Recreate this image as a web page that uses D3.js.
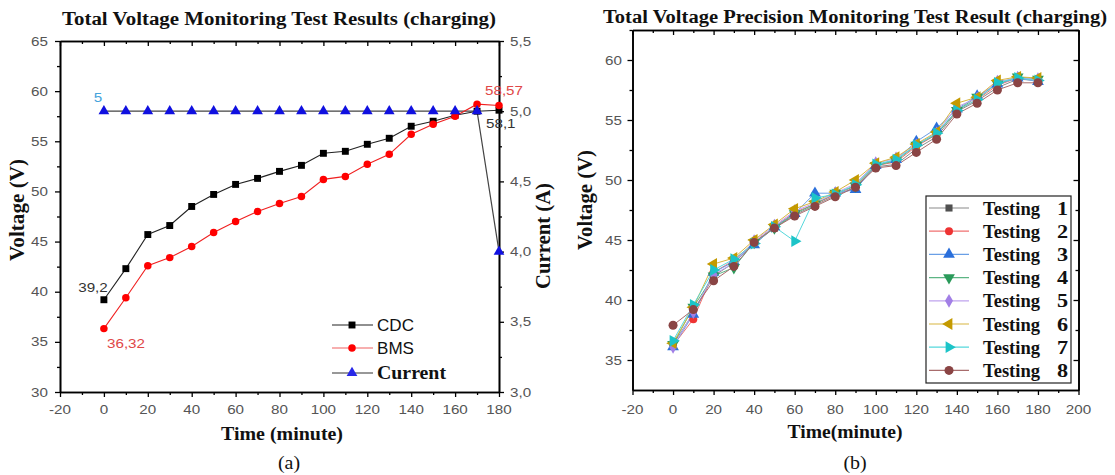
<!DOCTYPE html>
<html>
<head>
<meta charset="utf-8">
<script src="https://cdn.jsdelivr.net/npm/d3@7"></script>
<style>
  body { margin: 0; background: #fff; }
  svg { display: block; }
</style>
</head>
<body>
<svg width="1115" height="475"></svg>
<script>
// time axis shared by both panels (minutes)
var times = [0, 10, 20, 30, 40, 50, 60, 70, 80, 90, 100, 110, 120, 130, 140, 150, 160, 170, 180];

// panel (a)
var cdc = [39.2, 42.3, 45.7, 46.6, 48.5, 49.7, 50.7, 51.3, 52.0, 52.6, 53.8, 54.0, 54.7, 55.3, 56.5, 57.0, 57.6, 58.0, 58.1];
var bms = [36.32, 39.4, 42.6, 43.4, 44.5, 45.9, 47.0, 48.0, 48.8, 49.5, 51.2, 51.5, 52.7, 53.7, 55.7, 56.7, 57.5, 58.7, 58.57];
var current = [5, 5, 5, 5, 5, 5, 5, 5, 5, 5, 5, 5, 5, 5, 5, 5, 5, 5, 4];
var aLeftTicks = [30, 35, 40, 45, 50, 55, 60, 65];
var aRightTicks = [3.0, 3.5, 4.0, 4.5, 5.0, 5.5];
var aTimeTicks = [-20, 0, 20, 40, 60, 80, 100, 120, 140, 160, 180];

// panel (b)
var testNames = ["Testing 1", "Testing 2", "Testing 3", "Testing 4", "Testing 5", "Testing 6", "Testing 7", "Testing 8"];
var test1 = [36.3, 38.9, 42.0, 43.1, 44.7, 46.0, 47.1, 47.9, 48.7, 49.4, 51.1, 51.3, 52.6, 53.6, 55.7, 56.6, 57.7, 58.4, 58.3];
var test2 = [36.2, 38.4, 42.3, 43.3, 44.8, 46.1, 47.3, 48.0, 48.8, 49.5, 51.2, 51.5, 52.8, 53.8, 55.8, 56.7, 57.9, 58.5, 58.4];
var test3 = [36.1, 38.8, 42.3, 43.2, 44.6, 46.1, 47.2, 48.9, 48.9, 49.2, 51.2, 51.7, 53.2, 54.3, 55.9, 57.0, 58.0, 58.5, 58.2];
var test4 = [36.3, 39.4, 42.0, 42.7, 44.8, 46.0, 47.2, 48.0, 48.9, 49.5, 51.2, 51.6, 52.9, 53.8, 55.8, 56.9, 58.0, 58.6, 58.4];
var test5 = [36.1, 39.0, 42.1, 43.1, 44.9, 46.2, 47.4, 48.1, 48.9, 49.7, 51.4, 51.8, 52.9, 53.9, 56.1, 56.8, 58.2, 58.5, 58.4];
var test6 = [36.4, 39.4, 43.0, 43.5, 45.0, 46.3, 47.6, 48.2, 49.0, 50.0, 51.4, 51.9, 53.0, 54.0, 56.4, 56.9, 58.3, 58.6, 58.5];
var test7 = [36.6, 39.6, 42.5, 43.4, 44.7, 46.1, 44.9, 48.5, 48.8, 49.6, 51.3, 51.7, 52.9, 53.9, 55.8, 56.7, 58.1, 58.5, 58.3];
var test8 = [37.9, 39.2, 41.6, 42.8, 44.8, 46.0, 47.0, 47.8, 48.6, 49.4, 51.0, 51.2, 52.3, 53.4, 55.5, 56.4, 57.5, 58.1, 58.1];
var bTicks = [35, 40, 45, 50, 55, 60];
var bTimeTicks = [-20, 0, 20, 40, 60, 80, 100, 120, 140, 160, 180, 200];

var serif = "'Liberation Serif', 'Times New Roman', serif";
var sans = "'Liberation Sans', Arial, sans-serif";
var SX = 1.17; // the figure is a bit stretched sideways

var svg = d3.select("svg");

// small helper for text (stretched horizontally like the picture)
function txt(g, x, y, s, o) {
    o = o || {};
    var sx = o.sx || SX;
    var tr = "translate(" + x + "," + y + ")";
    if (sx != 1) tr += " scale(" + sx + ",1)";
    if (o.rot) tr += " rotate(" + o.rot + ")";
    var t = g.append("text")
        .attr("transform", tr)
        .attr("dy", "0.35em")
        .attr("text-anchor", o.anchor || "middle")
        .attr("font-family", o.font || sans)
        .attr("font-size", (o.size || 13) + "px")
        .attr("font-weight", o.bold ? "bold" : "normal")
        .attr("fill", o.color || "#555")
        .text(s);
    if (o.len) t.attr("textLength", o.len / (o.rot ? 1 : sx)).attr("lengthAdjust", "spacingAndGlyphs");
    return t;
}

// ticks on one side, d3 axis is used for position, labels added by hand to stretch them
function frameAxis(g, axis, tr) {
    var a = g.append("g").attr("transform", tr).call(axis);
    a.select(".domain").attr("stroke", "#000").attr("stroke-width", 1.6);
    a.selectAll(".tick line").attr("stroke", "#000").attr("stroke-width", 1.3);
    a.selectAll(".tick text").remove();
    return a;
}

function minorList(lo, hi, step) {
    var out = [];
    for (var v = lo; v <= hi + 1e-9; v += step) out.push(+v.toFixed(4));
    return out;
}

// ================= panel (a) =================
var ax0 = 60, ax1 = 499, ay0 = 41, ay1 = 392;
var xa = d3.scaleLinear().domain([-20, 180]).range([ax0, ax1]);
var ya = d3.scaleLinear().domain([30, 65]).range([ay1, ay0]);
var yaR = d3.scaleLinear().domain([3.0, 5.5]).range([ay1, ay0]);

var ga = svg.append("g");

txt(ga, 279, 19, "Total Voltage Monitoring Test Results (charging)", {font: serif, bold: true, size: 18, color: "#111", len: 434, sx: 1});

// minor ticks
frameAxis(ga, d3.axisBottom(xa).tickValues(minorList(-10, 170, 20)).tickSize(3).tickSizeOuter(0), "translate(0," + ay1 + ")");
frameAxis(ga, d3.axisTop(xa).tickValues(minorList(-10, 170, 20)).tickSize(-3).tickSizeOuter(0), "translate(0," + ay0 + ")");
frameAxis(ga, d3.axisLeft(ya).tickValues(minorList(32.5, 62.5, 5)).tickSize(3).tickSizeOuter(0), "translate(" + ax0 + ",0)");
frameAxis(ga, d3.axisRight(yaR).tickValues(minorList(3.25, 5.25, 0.5)).tickSize(3).tickSizeOuter(0), "translate(" + ax1 + ",0)");
// major ticks
frameAxis(ga, d3.axisBottom(xa).tickValues(aTimeTicks).tickSize(5).tickSizeOuter(0), "translate(0," + ay1 + ")");
frameAxis(ga, d3.axisTop(xa).tickValues(aTimeTicks).tickSize(-5).tickSizeOuter(0), "translate(0," + ay0 + ")");
frameAxis(ga, d3.axisLeft(ya).tickValues(aLeftTicks).tickSize(5).tickSizeOuter(0), "translate(" + ax0 + ",0)");
frameAxis(ga, d3.axisRight(yaR).tickValues(aRightTicks).tickSize(5).tickSizeOuter(0), "translate(" + ax1 + ",0)");

aTimeTicks.forEach(function(d) { txt(ga, xa(d), 409, d); });
aLeftTicks.forEach(function(d) { txt(ga, 48, ya(d), d, {anchor: "end"}); });
aRightTicks.forEach(function(d) { txt(ga, 510, yaR(d), d3.format(".1f")(d).replace(".", ","), {anchor: "start"}); });

txt(ga, 17, 210, "Voltage (V)", {font: serif, bold: true, size: 18, color: "#111", rot: -90, len: 102});
txt(ga, 543, 236, "Current  (A)", {font: serif, bold: true, size: 18, color: "#111", rot: -90, len: 106});
txt(ga, 282, 434, "Time (minute)", {font: serif, bold: true, size: 18, color: "#111", len: 122});
txt(ga, 289, 462, "(a)", {font: serif, size: 19, color: "#111", sx: 1.05});

var lineA = d3.line().x(function(d) { return xa(d[0]); }).y(function(d) { return d[1]; });

var curPts = times.map(function(t, i) { return [t, yaR(current[i])]; });
var cdcPts = times.map(function(t, i) { return [t, ya(cdc[i])]; });
var bmsPts = times.map(function(t, i) { return [t, ya(bms[i])]; });

ga.append("path").attr("d", lineA(curPts)).attr("fill", "none").attr("stroke", "#444").attr("stroke-width", 1.2);
ga.append("path").attr("d", lineA(cdcPts)).attr("fill", "none").attr("stroke", "#222").attr("stroke-width", 1.1);
ga.append("path").attr("d", lineA(bmsPts)).attr("fill", "none").attr("stroke", "#f02020").attr("stroke-width", 1.1);

var sq = d3.symbol().type(d3.symbolSquare).size(48);
var ci = d3.symbol().type(d3.symbolCircle).size(44);
var tri = d3.symbol().type(d3.symbolTriangle).size(50);

ga.selectAll(".cdc").data(cdcPts).enter().append("path")
    .attr("d", sq).attr("transform", function(d) { return "translate(" + xa(d[0]) + "," + d[1] + ")"; })
    .attr("fill", "#000");
ga.selectAll(".bms").data(bmsPts).enter().append("path")
    .attr("d", ci).attr("transform", function(d) { return "translate(" + xa(d[0]) + "," + d[1] + ")"; })
    .attr("fill", "#f00");
ga.selectAll(".cur").data(curPts).enter().append("path")
    .attr("d", tri).attr("transform", function(d) { return "translate(" + xa(d[0]) + "," + d[1] + ")"; })
    .attr("fill", "#1010e0");

// value labels
txt(ga, 93, 287, "39,2", {color: "#333", size: 13});
txt(ga, 126, 343, "36,32", {color: "#e04848", size: 13});
txt(ga, 98, 97, "5", {color: "#45a4dc", size: 13});
txt(ga, 504, 90, "58,57", {color: "#e04848", size: 13});
txt(ga, 486, 123, "58,1", {color: "#333", size: 13, anchor: "start"});

// legend (a)
var legA = [
    {name: "CDC", y: 325, sym: sq, fill: "#000", line: "#222", font: sans, bold: false, len: 37},
    {name: "BMS", y: 348, sym: ci, fill: "#f00", line: "#f06060", font: sans, bold: false, len: 37},
    {name: "Current", y: 373, sym: tri, fill: "#2828e8", line: "#333", font: serif, bold: true, len: 69}
];
legA.forEach(function(d) {
    ga.append("line").attr("x1", 332).attr("x2", 373).attr("y1", d.y).attr("y2", d.y).attr("stroke", d.line).attr("stroke-width", 1.2);
    ga.append("path").attr("d", d.sym).attr("transform", "translate(352," + d.y + ")").attr("fill", d.fill);
    txt(ga, 377, d.y, d.name, {anchor: "start", font: d.font, bold: d.bold, size: d.bold ? 18 : 16, color: "#111", len: d.len});
});

// ================= panel (b) =================
var bx0 = 632.5, bx1 = 1078.5, by0 = 30, by1 = 390;
var xb = d3.scaleLinear().domain([-20, 200]).range([bx0, bx1]);
var yb = d3.scaleLinear().domain([32.5, 62.5]).range([by1, by0]);

var gb = svg.append("g");
txt(gb, 855, 17, "Total Voltage Precision Monitoring Test Result (charging)", {font: serif, bold: true, size: 18, color: "#111", len: 504, sx: 1});

frameAxis(gb, d3.axisBottom(xb).tickValues(minorList(-10, 190, 20)).tickSize(3).tickSizeOuter(0), "translate(0," + by1 + ")");
frameAxis(gb, d3.axisTop(xb).tickValues(minorList(-10, 190, 20)).tickSize(-3).tickSizeOuter(0), "translate(0," + by0 + ")");
frameAxis(gb, d3.axisLeft(yb).tickValues(minorList(37.5, 62.5, 5)).tickSize(3).tickSizeOuter(0), "translate(" + bx0 + ",0)");
frameAxis(gb, d3.axisRight(yb).tickValues(minorList(37.5, 62.5, 5)).tickSize(-3).tickSizeOuter(0), "translate(" + bx1 + ",0)");
frameAxis(gb, d3.axisBottom(xb).tickValues(bTimeTicks).tickSize(5).tickSizeOuter(0), "translate(0," + by1 + ")");
frameAxis(gb, d3.axisTop(xb).tickValues(bTimeTicks).tickSize(-5).tickSizeOuter(0), "translate(0," + by0 + ")");
frameAxis(gb, d3.axisLeft(yb).tickValues(bTicks).tickSize(5).tickSizeOuter(0), "translate(" + bx0 + ",0)");
frameAxis(gb, d3.axisRight(yb).tickValues(bTicks).tickSize(-5).tickSizeOuter(0), "translate(" + bx1 + ",0)");

bTimeTicks.forEach(function(d) { txt(gb, xb(d), 409, d); });
bTicks.forEach(function(d) { txt(gb, 622, yb(d), d, {anchor: "end"}); });

txt(gb, 585, 200, "Voltage (V)", {font: serif, bold: true, size: 18, color: "#111", rot: -90, len: 100});
txt(gb, 845, 432, "Time(minute)", {font: serif, bold: true, size: 18, color: "#111", len: 115});
txt(gb, 855, 462, "(b)", {font: serif, size: 19, color: "#111", sx: 1.05});

var series = [test1, test2, test3, test4, test5, test6, test7, test8];
var colors = ["#505050", "#ee3333", "#2a6fdb", "#2a9a5a", "#a27fe6", "#c49a00", "#1cc4c8", "#8a4444"];
var lineCol = ["#8a8a8a", "#f07070", "#6a9fe6", "#5cb584", "#bfa3ee", "#d8b640", "#55d8dc", "#a86c6c"];
var shapes = [
    {t: d3.symbolSquare, r: 0, s: 50},
    {t: d3.symbolCircle, r: 0, s: 50},
    {t: d3.symbolTriangle, r: 0, s: 60},
    {t: d3.symbolTriangle, r: 180, s: 60},
    {t: d3.symbolDiamond, r: 0, s: 55},
    {t: d3.symbolTriangle, r: -90, s: 60},
    {t: d3.symbolTriangle, r: 90, s: 60},
    {t: d3.symbolCircle, r: 0, s: 64}
];

var lineB = d3.line().x(function(d, i) { return xb(times[i]); }).y(function(d) { return yb(d); });

series.forEach(function(s, k) {
    gb.append("path").attr("d", lineB(s)).attr("fill", "none").attr("stroke", lineCol[k]).attr("stroke-width", 1);
});
series.forEach(function(s, k) {
    var sym = d3.symbol().type(shapes[k].t).size(shapes[k].s);
    gb.selectAll(".m" + k).data(s).enter().append("path")
        .attr("d", sym)
        .attr("transform", function(d, i) { return "translate(" + xb(times[i]) + "," + yb(d) + ") rotate(" + shapes[k].r + ")"; })
        .attr("fill", colors[k]);
});

// legend (b)
var lx0 = 926, lx1 = 1071, ly0 = 196, ly1 = 383;
gb.append("rect").attr("x", lx0).attr("y", ly0).attr("width", lx1 - lx0).attr("height", ly1 - ly0)
    .attr("fill", "#fff").attr("stroke", "#222").attr("stroke-width", 1.2);
testNames.forEach(function(n, k) {
    var y = 208 + k * 23.2;
    gb.append("line").attr("x1", 929).attr("x2", 969).attr("y1", y).attr("y2", y).attr("stroke", lineCol[k]).attr("stroke-width", 1.2);
    var sym = d3.symbol().type(shapes[k].t).size(shapes[k].s);
    gb.append("path").attr("d", sym).attr("transform", "translate(949," + y + ") rotate(" + shapes[k].r + ")").attr("fill", colors[k]);
    var parts = n.split(" ");
    txt(gb, 983, y, parts[0], {anchor: "start", font: serif, bold: true, size: 19, color: "#111", len: 57});
    txt(gb, 1068, y, parts[1], {anchor: "end", font: serif, bold: true, size: 19, color: "#111"});
});
</script>
</body>
</html>
